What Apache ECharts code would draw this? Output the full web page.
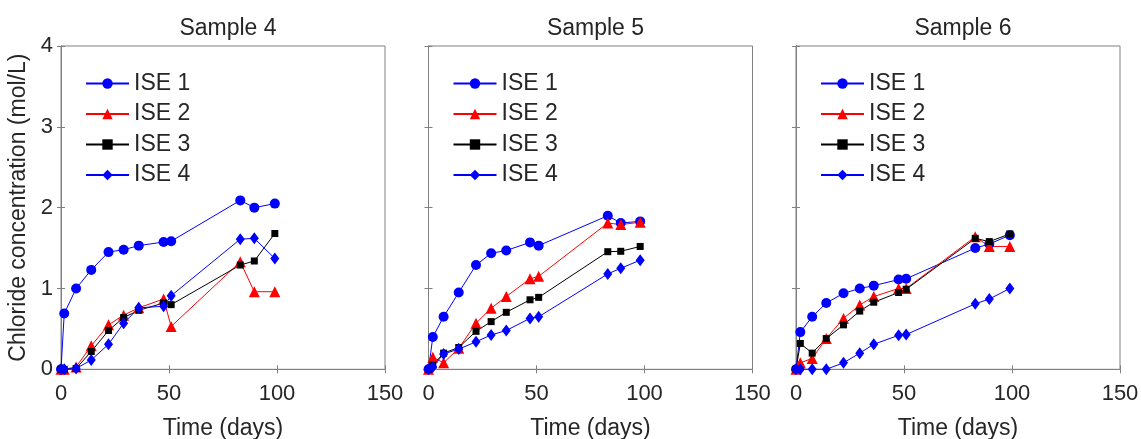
<!DOCTYPE html>
<html>
<head>
<meta charset="utf-8">
<script src="https://cdn.jsdelivr.net/npm/echarts@6/dist/echarts.min.js"></script>
<style>
html,body{margin:0;padding:0;background:#fff;}
#chart{width:1141px;height:439px;}
</style>
</head>
<body>
<div id="chart"></div>
<script>
// ---- data ----
var panelTitles = ['Sample 4', 'Sample 5', 'Sample 6'];
var seriesNames = ['ISE 1', 'ISE 2', 'ISE 3', 'ISE 4'];
var xTicks = [0, 50, 100, 150];
var yTicks = [0, 1, 2, 3, 4];

var days4 = [0, 1.5, 7, 14, 22, 29, 36, 47.5, 51, 83, 89.5, 99];
var ise1_s4 = [0, 0.69, 1.00, 1.23, 1.45, 1.48, 1.53, 1.575, 1.585, 2.09, 2.00, 2.05];
var ise2_s4 = [0, 0, 0.03, 0.29, 0.55, 0.67, 0.76, 0.87, 0.53, 1.33, 0.96, 0.96];
var ise3_s4 = [0, 0, 0.01, 0.22, 0.48, 0.64, 0.73, 0.82, 0.80, 1.29, 1.34, 1.68];
var ise4_s4 = [0, 0, 0.01, 0.115, 0.31, 0.57, 0.76, 0.78, 0.91, 1.61, 1.62, 1.37];

var days5 = [0, 2, 7, 14, 22, 29, 36, 47, 51, 83, 89, 98];
var ise1_s5 = [0, 0.40, 0.65, 0.95, 1.29, 1.435, 1.47, 1.57, 1.53, 1.90, 1.81, 1.83];
var ise2_s5 = [0, 0.15, 0.08, 0.26, 0.57, 0.755, 0.90, 1.12, 1.15, 1.81, 1.79, 1.82];
var ise3_s5 = [0, 0.05, 0.20, 0.27, 0.47, 0.59, 0.705, 0.86, 0.89, 1.455, 1.46, 1.52];
var ise4_s5 = [0, 0.03, 0.19, 0.25, 0.34, 0.425, 0.48, 0.63, 0.65, 1.18, 1.25, 1.35];

var days6 = [0, 2, 7.5, 14, 22, 29.5, 36, 47.5, 51, 83, 89.5, 99];
var ise1_s6 = [0, 0.46, 0.65, 0.82, 0.94, 1.00, 1.035, 1.11, 1.12, 1.50, 1.55, 1.66];
var ise2_s6 = [0, 0.08, 0.135, 0.38, 0.63, 0.795, 0.90, 1.00, 1.00, 1.64, 1.52, 1.52];
var ise3_s6 = [0, 0.32, 0.20, 0.38, 0.55, 0.72, 0.83, 0.95, 0.99, 1.62, 1.58, 1.675];
var ise4_s6 = [0, 0, 0, 0, 0.08, 0.20, 0.31, 0.42, 0.43, 0.81, 0.87, 1.00];

// ---- build ----
var panels = [
  {days: days4, vals: [ise1_s4, ise2_s4, ise3_s4, ise4_s4]},
  {days: days5, vals: [ise1_s5, ise2_s5, ise3_s5, ise4_s5]},
  {days: days6, vals: [ise1_s6, ise2_s6, ise3_s6, ise4_s6]}
];
var styles = [
  {color: '#0000ff', symbol: 'circle', size: 10},
  {color: '#ff0000', symbol: 'triangle', size: 11},
  {color: '#000000', symbol: 'rect', size: 7},
  {color: '#0000ff', symbol: 'diamond', size: [9, 12]}
];
var FONT = '"Liberation Sans", Arial, sans-serif';
var TXT = '#262626';
var AX = '#808080';
var gridLefts = [61, 428.5, 796];
var gridW = 324, gridTop = 46, gridH = 323.3;

var grids = [], xAxes = [], yAxes = [], series = [], titles = [], legends = [];
function zip(d, v) { return d.map(function (x, i) { return [x, v[i]]; }); }

panels.forEach(function (p, k) {
  grids.push({left: gridLefts[k], top: gridTop, width: gridW, height: gridH,
    containLabel: false, outerBoundsMode: 'none',
    show: true, borderColor: AX, borderWidth: 1, backgroundColor: '#fff'});
  var xa = {type: 'value', gridIndex: k, min: 0, max: 150, interval: 50,
    axisLine: {show: true, lineStyle: {color: AX}},
    axisTick: {inside: true, length: 4, lineStyle: {color: AX}},
    splitLine: {show: false}};
  xAxes.push(Object.assign({}, xa, {position: 'bottom',
    name: 'Time (days)', nameLocation: 'middle', nameGap: 48,
    nameTextStyle: {fontFamily: FONT, fontSize: 23, color: TXT},
    axisLabel: {fontFamily: FONT, fontSize: 22, color: TXT, margin: 14,
      formatter: function (v) { return xTicks.indexOf(v) >= 0 ? String(v) : ''; }}}));
  xAxes.push(Object.assign({}, xa, {position: 'top', axisLabel: {show: false}}));
  var ya = {type: 'value', gridIndex: k, min: 0, max: 4, interval: 1,
    axisLine: {show: true, lineStyle: {color: AX}},
    axisTick: {inside: true, length: 4, lineStyle: {color: AX}},
    splitLine: {show: false}};
  var yLeft = Object.assign({}, ya, {position: 'left',
    axisLabel: {show: k === 0, fontFamily: FONT, fontSize: 22, color: TXT, margin: 8,
      formatter: function (v) { return yTicks.indexOf(v) >= 0 ? String(v) : ''; }}});
  if (k === 0) {
    yLeft.name = 'Chloride concentration (mol/L)';
    yLeft.nameLocation = 'middle';
    yLeft.nameGap = 31;
    yLeft.nameTextStyle = {fontFamily: FONT, fontSize: 23, color: TXT};
  }
  yAxes.push(yLeft);
  yAxes.push(Object.assign({}, ya, {position: 'right', axisLabel: {show: false}}));

  titles.push({text: panelTitles[k], left: gridLefts[k] + gridW / 2, top: 12,
    textAlign: 'center',
    textStyle: {fontFamily: FONT, fontSize: 23, fontWeight: 'normal', color: TXT}});

  legends.push({data: seriesNames, orient: 'vertical', left: gridLefts[k] + 24, top: 72,
    padding: 0, itemWidth: 43, itemHeight: 13, itemGap: 7.5, selectedMode: false,
    textStyle: {fontFamily: FONT, fontSize: 23, color: TXT}});

  p.vals.forEach(function (v, s) {
    var st = styles[s];
    series.push({type: 'line', name: seriesNames[s],
      xAxisIndex: k * 2, yAxisIndex: k * 2,
      data: zip(p.days, v),
      symbol: st.symbol, symbolSize: st.size, showAllSymbol: true,
      lineStyle: {color: st.color, width: 1},
      itemStyle: {color: st.color, borderWidth: 0},
      emphasis: {disabled: true}, animation: false});
  });
});

var chart = echarts.init(document.getElementById('chart'), null, {renderer: 'canvas'});
chart.setOption({
  animation: false,
  backgroundColor: '#fff',
  title: titles,
  legend: legends,
  grid: grids,
  xAxis: xAxes,
  yAxis: yAxes,
  series: series
});
</script>
</body>
</html>
